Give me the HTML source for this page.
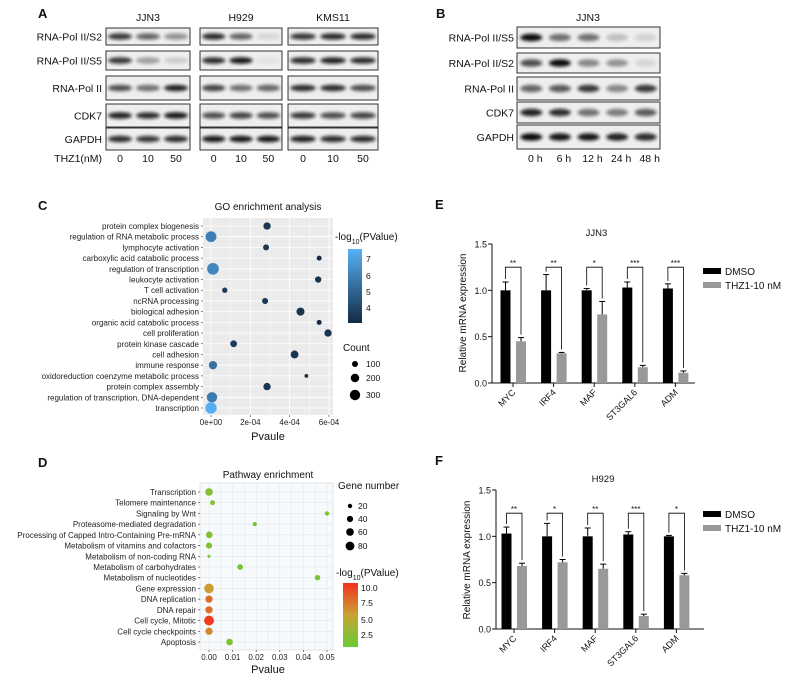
<!DOCTYPE html>
<html><head><meta charset="utf-8">
<style>
html,body{margin:0;padding:0;background:#fff;}
svg{display:block;font-family:"Liberation Sans",Arial,sans-serif;}
</style></head>
<body>
<svg id="fig" width="790" height="675" viewBox="0 0 790 675" xmlns="http://www.w3.org/2000/svg">
<defs>
<filter id="blur" x="-50%" y="-100%" width="200%" height="300%"><feGaussianBlur stdDeviation="1.6"/></filter>
<linearGradient id="gradC" x1="0" y1="1" x2="0" y2="0"><stop offset="0" stop-color="#132B43"/><stop offset="1" stop-color="#56B1F7"/></linearGradient>
<linearGradient id="gradD" x1="0" y1="1" x2="0" y2="0"><stop offset="0" stop-color="#66CC33"/><stop offset="0.5" stop-color="#C9A232"/><stop offset="1" stop-color="#F2311E"/></linearGradient>
</defs>
<g id="root"></g>
</svg>
<script>
// ---------- DATA ----------
const blotRowsA = ["RNA-Pol II/S2","RNA-Pol II/S5","RNA-Pol II","CDK7","GAPDH"];
const blotCellsA = ["JJN3","H929","KMS11"];
const blotA = {
  JJN3:[[0.8,0.6,0.4],[0.8,0.35,0.15],[0.7,0.55,0.9],[0.9,0.85,0.95],[0.85,0.8,0.85]],
  H929:[[0.85,0.6,0.1],[0.85,0.95,0.05],[0.75,0.55,0.6],[0.7,0.75,0.7],[0.95,0.95,0.95]],
  KMS11:[[0.8,0.85,0.85],[0.85,0.9,0.85],[0.85,0.85,0.7],[0.8,0.7,0.75],[0.9,0.85,0.85]]
};
const doseLabels = ["0","10","50"];
const blotRowsB = ["RNA-Pol II/S5","RNA-Pol II/S2","RNA-Pol II","CDK7","GAPDH"];
const timeLabels = ["0 h","6 h","12 h","24 h","48 h"];
const blotB = [[1.0,0.55,0.55,0.2,0.12],[0.7,1.0,0.45,0.4,0.1],[0.6,0.65,0.8,0.45,0.8],[0.9,0.85,0.55,0.5,0.65],[1.0,0.95,0.95,0.9,0.85]];

const goTerms = ["protein complex biogenesis","regulation of RNA metabolic process","lymphocyte activation","carboxylic acid catabolic process","regulation of transcription","leukocyte activation","T cell activation","ncRNA processing","biological adhesion","organic acid catabolic process","cell proliferation","protein kinase cascade","cell adhesion","immune response","oxidoreduction coenzyme metabolic process","protein complex assembly","regulation of transcription, DNA-dependent","transcription"];
const goPvalue = [2.85e-4,0.0,2.8e-4,5.5e-4,0.1e-4,5.45e-4,0.7e-4,2.75e-4,4.55e-4,5.5e-4,5.95e-4,1.15e-4,4.25e-4,0.1e-4,4.85e-4,2.85e-4,0.05e-4,0.0];
const goCount = [150,330,100,70,380,110,80,100,180,70,150,130,170,190,40,150,300,360];
const goLogP = [3.6,6.0,3.6,3.3,6.2,3.4,3.8,3.6,3.5,3.3,3.5,3.8,3.5,5.5,3.3,3.6,5.9,7.5];
const goXTicks = ["0e+00","2e-04","4e-04","6e-04"];
const goXTickVals = [0,2e-4,4e-4,6e-4];

const pwTerms = ["Transcription","Telomere maintenance","Signaling by Wnt","Proteasome-mediated degradation","Processing of Capped Intro-Containing Pre-mRNA","Metabolism of vitamins and cofactors","Metabolism of non-coding RNA","Metabolism of carbohydrates","Metabolism of nucleotides","Gene expression","DNA replication","DNA repair","Cell cycle, Mitotic","Cell cycle checkpoints","Apoptosis"];
const pwPvalue = [0.0,0.0015,0.050,0.0194,0.0001,0.0,0.0,0.0132,0.046,0.0,0.0,0.0,0.0,0.0,0.0087];
const pwGenes = [60,25,20,18,45,40,10,35,30,95,55,55,100,55,45];
const pwLogP = [2.6,2.0,1.6,1.7,2.4,2.4,2.2,1.8,1.7,6.2,8.3,8.3,10.5,7.2,2.1];
const pwXTicks = ["0.00","0.01","0.02","0.03","0.04","0.05"];
const pwXTickVals = [0,0.01,0.02,0.03,0.04,0.05];

const genes = ["MYC","IRF4","MAF","ST3GAL6","ADM"];
const jjn3Dmso = [1.0,1.0,1.0,1.03,1.02];
const jjn3DmsoErr = [0.09,0.17,0.02,0.06,0.05];
const jjn3Thz = [0.45,0.32,0.74,0.17,0.11];
const jjn3ThzErr = [0.04,0.01,0.14,0.02,0.02];
const jjn3Sig = ["**","**","*","***","***"];
const h929Dmso = [1.03,1.0,1.0,1.02,1.0];
const h929DmsoErr = [0.07,0.14,0.09,0.03,0.01];
const h929Thz = [0.68,0.72,0.65,0.14,0.58];
const h929ThzErr = [0.03,0.03,0.05,0.02,0.02];
const h929Sig = ["**","*","**","***","*"];
const barYTicks = ["0.0","0.5","1.0","1.5"];
const barYTickVals = [0,0.5,1.0,1.5];

// ---------- HELPERS ----------
const NS="http://www.w3.org/2000/svg";
const root=document.getElementById('root');
function mk(tag,attrs,parent,text){const e=document.createElementNS(NS,tag);for(const k in attrs)e.setAttribute(k,attrs[k]);if(text!==undefined)e.textContent=text;(parent||root).appendChild(e);return e;}
function grp(name,parent){const g=mk('g',{},parent);return g;}
function txt(parent,x,y,s,size,anchor,name,extra){const t=mk('text',Object.assign({x:x,y:y,'font-size':size,'text-anchor':anchor||'start',fill:'#111'},extra||{}),parent,s);return t;}
function logTitle(parent,x,y){
  const t=mk('text',{x:x,y:y,'font-size':10,fill:'#111'},parent);
  
  
  mk('tspan',{},t,'-log');
  mk('tspan',{'font-size':7,'baseline-shift':'sub'},t,'10');
  mk('tspan',{},t,'(PValue)');
}

// ---------- PANEL A ----------
const gA=grp('panel-a');
txt(gA,38,18,'A',13,'start','panel-label-a',{'font-weight':'bold'});
const rowYA=[[28,45],[51,70],[76,100],[104,127],[128,150]];
const boxXA={JJN3:[106,190],H929:[200,282],KMS11:[288,378]};
blotRowsA.forEach((r,i)=>{txt(gA,102,(rowYA[i][0]+rowYA[i][1])/2+4,r,10.5,'end','blot-row-label');});
blotCellsA.forEach(c=>{
  const [x0,x1]=boxXA[c];
  txt(gA,(x0+x1)/2,21,c,10.5,'middle','cell-line-title');
  rowYA.forEach((ry,i)=>{
    const b=mk('rect',{x:x0,y:ry[0],width:x1-x0,height:ry[1]-ry[0],fill:'#eeeeee',stroke:'#333','stroke-width':1},gA);
    
    
    blotA[c][i].forEach((v,j)=>{
      const cx=x0+(x1-x0)*(2*j+1)/6, cy=(ry[0]+ry[1])/2;
      const e=mk('ellipse',{cx:cx,cy:cy,rx:(x1-x0)/7,ry:3.3,fill:'#111',opacity:v,filter:'url(#blur)'},gA);
      
      
    });
  });
  doseLabels.forEach((d,j)=>txt(gA,x0+(x1-x0)*(2*j+1)/6,162,d,10.5,'middle','dose-label'));
});
txt(gA,102,162,'THZ1(nM)',10.5,'end','dose-axis-label');

// ---------- PANEL B ----------
const gB=grp('panel-b');
txt(gB,436,18,'B',13,'start','panel-label-b',{'font-weight':'bold'});
txt(gB,588,21,'JJN3',10.5,'middle','cell-line-title');
const rowYB=[[27,48],[53,73],[77,100],[102,123],[125,149]];
const bx0=517,bx1=660;
blotRowsB.forEach((r,i)=>{
  txt(gB,514,(rowYB[i][0]+rowYB[i][1])/2+4,r,10.5,'end','blot-row-label');
  const b=mk('rect',{x:bx0,y:rowYB[i][0],width:bx1-bx0,height:rowYB[i][1]-rowYB[i][0],fill:'#eeeeee',stroke:'#333','stroke-width':1},gB);
  
  
  blotB[i].forEach((v,j)=>{
    const cx=bx0+(bx1-bx0)*(2*j+1)/10, cy=(rowYB[i][0]+rowYB[i][1])/2;
    const e=mk('ellipse',{cx:cx,cy:cy,rx:11,ry:3.8,fill:'#111',opacity:v,filter:'url(#blur)'},gB);
    
    
  });
});
timeLabels.forEach((t,j)=>txt(gB,bx0+(bx1-bx0)*(2*j+1)/10+4,162,t,10.5,'middle','time-label'));

// ---------- PANEL C ----------
const gC=grp('panel-c');
txt(gC,38,210,'C',13,'start','panel-label-c',{'font-weight':'bold'});
const cL=203,cR=333,cT=218,cB=415;
const cx0=211,cx1=329;
const xC=v=>cx0+(v/6e-4)*(cx1-cx0);
const yC=i=>226+i*(408-226)/(goTerms.length-1);
const rC=c=>5.2*Math.sqrt(c/300);
function colC(v){const t=Math.max(0,Math.min(1,(v-3.2)/(7.6-3.2)));const a=[0x13,0x2B,0x43],b=[0x56,0xB1,0xF7];return 'rgb('+a.map((q,k)=>Math.round(q+(b[k]-q)*t)).join(',')+')';}
const bgC=mk('rect',{x:cL,y:cT,width:cR-cL,height:cB-cT,fill:'#EBEBEB'},gC);


goTerms.forEach((t,i)=>{mk('line',{x1:cL,x2:cR,y1:yC(i),y2:yC(i),stroke:'#fff','stroke-width':0.8},gC);});
goXTickVals.forEach(v=>{mk('line',{x1:xC(v),x2:xC(v),y1:cT,y2:cB,stroke:'#fff','stroke-width':0.8},gC);});
goXTickVals.forEach(v=>{if(v<6e-4)mk('line',{x1:xC(v+1e-4),x2:xC(v+1e-4),y1:cT,y2:cB,stroke:'#fff','stroke-width':0.4},gC);});
goTerms.forEach((t,i)=>{
  txt(gC,cL-4,yC(i)+3,t,8,'end','go-term-label',{fill:'#222'});
  mk('line',{x1:cL-2,x2:cL,y1:yC(i),y2:yC(i),stroke:'#333','stroke-width':0.6},gC);
  const d=mk('circle',{cx:xC(goPvalue[i]),cy:yC(i),r:rC(goCount[i]),fill:colC(goLogP[i])},gC);
  
  
});
goXTicks.forEach((s,k)=>{mk('line',{x1:xC(goXTickVals[k]),x2:xC(goXTickVals[k]),y1:cB,y2:cB+2,stroke:'#333','stroke-width':0.6},gC);txt(gC,xC(goXTickVals[k]),425,s,8,'middle','x-tick-label',{fill:'#222'});});
txt(gC,268,210,'GO enrichment analysis',10,'middle','chart-title');
txt(gC,268,440,'Pvaule',11,'middle','x-axis-title');
logTitle(gC,335,240);
const cbC=mk('rect',{x:348,y:249,width:14,height:74,fill:'url(#gradC)'},gC);


[['7',259],['6',276],['5',292],['4',308]].forEach(a=>txt(gC,366,a[1]+3,a[0],8.5,'start','colorbar-label'));
txt(gC,343,351,'Count',10,'start','size-legend-title');
[[100,364],[200,378],[300,395]].forEach(a=>{mk('circle',{cx:355,cy:a[1],r:rC(a[0]),fill:'#000'},gC);txt(gC,366,a[1]+3,String(a[0]),8.5,'start','size-legend-label');});

// ---------- PANEL D ----------
const gD=grp('panel-d');
txt(gD,38,467,'D',13,'start','panel-label-d',{'font-weight':'bold'});
const dL=200,dR=333,dT=483,dB=650;
const dx0=209,dx1=327;
const xD=v=>dx0+(v/0.05)*(dx1-dx0);
const yD=i=>492+i*(642-492)/(pwTerms.length-1);
const rD=g=>4.4*Math.sqrt(g/80);
function colD(v){const t=Math.max(0,Math.min(1,(v-1)/(11-1)));const s=[[0x66,0xCC,0x33],[0xC9,0xA2,0x32],[0xF2,0x31,0x1E]];let a,b,u;if(t<0.5){a=s[0];b=s[1];u=t/0.5;}else{a=s[1];b=s[2];u=(t-0.5)/0.5;}return 'rgb('+a.map((q,k)=>Math.round(q+(b[k]-q)*u)).join(',')+')';}
const bgD=mk('rect',{x:dL,y:dT,width:dR-dL,height:dB-dT,fill:'#F7FAFC',stroke:'#ccc','stroke-width':0.5},gD);


pwTerms.forEach((t,i)=>mk('line',{x1:dL,x2:dR,y1:yD(i),y2:yD(i),stroke:'#e3e6ea','stroke-width':0.6},gD));
for(let k=0;k<=10;k++){const v=k*0.005;mk('line',{x1:xD(v),x2:xD(v),y1:dT,y2:dB,stroke:'#e3e6ea','stroke-width':0.6},gD);}
pwTerms.forEach((t,i)=>{
  txt(gD,dL-4,yD(i)+3,t,8,'end','pathway-label',{fill:'#222'});
  mk('line',{x1:dL-2,x2:dL,y1:yD(i),y2:yD(i),stroke:'#333','stroke-width':0.6},gD);
  const d=mk('circle',{cx:xD(pwPvalue[i]),cy:yD(i),r:rD(pwGenes[i]),fill:colD(pwLogP[i])},gD);
  
  
});
pwXTicks.forEach((s,k)=>{mk('line',{x1:xD(pwXTickVals[k]),x2:xD(pwXTickVals[k]),y1:dB,y2:dB+2,stroke:'#333','stroke-width':0.6},gD);txt(gD,xD(pwXTickVals[k]),660,s,8,'middle','x-tick-label',{fill:'#222'});});
txt(gD,268,478,'Pathway enrichment',10,'middle','chart-title');
txt(gD,268,673,'Pvalue',11,'middle','x-axis-title');
txt(gD,338,489,'Gene number',10,'start','size-legend-title');
[[20,506],[40,519],[60,532],[80,546]].forEach(a=>{mk('circle',{cx:350,cy:a[1],r:rD(a[0]),fill:'#000'},gD);txt(gD,358,a[1]+3,String(a[0]),8.5,'start','size-legend-label');});
logTitle(gD,336,576);
const cbD=mk('rect',{x:343,y:583,width:15,height:64,fill:'url(#gradD)'},gD);


[['10.0',588],['7.5',603],['5.0',620],['2.5',635]].forEach(a=>txt(gD,361,a[1]+3,a[0],8.5,'start','colorbar-label'));

// ---------- PANELS E / F ----------
function barChart(name,label,lx,ly,title,ax0,ax1,y0,y15,gx0,dm,dmE,th,thE,sig,ylabY,legY){
  const g=grp(name);
  txt(g,lx,ly,label,13,'start','panel-label',{'font-weight':'bold'});
  const yS=v=>y0-(v/1.5)*(y0-y15);
  const gs=40.6;
  txt(g,(ax0+ax1)/2+3,yS(1.5)-8,title,9.5,'middle','chart-title');
  mk('line',{x1:ax0,x2:ax0,y1:y15,y2:y0,stroke:'#111','stroke-width':1},g);
  mk('line',{x1:ax0,x2:ax1,y1:y0,y2:y0,stroke:'#111','stroke-width':1},g);
  barYTickVals.forEach((v,k)=>{mk('line',{x1:ax0-4,x2:ax0,y1:yS(v),y2:yS(v),stroke:'#111','stroke-width':1},g);txt(g,ax0-5,yS(v)+3.5,barYTicks[k],9,'end','y-tick-label');});
  txt(g,ax0-26,ylabY,'Relative mRNA expression',10,'middle','y-axis-title',{transform:'rotate(-90 '+(ax0-26)+' '+ylabY+')'});
  genes.forEach((gn,i)=>{
    const c=gx0+i*gs, xb=c-12.5, xg=c+3;
    const b1=mk('rect',{x:xb,y:yS(dm[i]),width:10,height:yS(0)-yS(dm[i]),fill:'#000'},g);
    
    
    const b2=mk('rect',{x:xg,y:yS(th[i]),width:10,height:yS(0)-yS(th[i]),fill:'#999'},g);
    
    
    [[xb+5,dm[i],dmE[i]],[xg+5,th[i],thE[i]]].forEach(e=>{
      mk('line',{x1:e[0],x2:e[0],y1:yS(e[1]),y2:yS(e[1]+e[2]),stroke:'#000','stroke-width':1},g);
      mk('line',{x1:e[0]-3,x2:e[0]+3,y1:yS(e[1]+e[2]),y2:yS(e[1]+e[2]),stroke:'#000','stroke-width':1},g);
    });
    const top=yS(1.25);
    const br=mk('polyline',{points:(xb+5)+','+(yS(dm[i]+dmE[i])-3)+' '+(xb+5)+','+top+' '+(xg+5)+','+top+' '+(xg+5)+','+(yS(th[i]+thE[i])-3),fill:'none',stroke:'#000','stroke-width':0.8},g);
    
    
    txt(g,c,top-1,sig[i],8,'middle','significance-stars');
    mk('line',{x1:c,x2:c,y1:y0,y2:y0+4,stroke:'#111','stroke-width':1},g);
    txt(g,c+3,y0+10,gn,9,'end','x-tick-label',{transform:'rotate(-45 '+(c+3)+' '+(y0+10)+')'});
  });
  const r1=mk('rect',{x:703,y:legY-4,width:18,height:6,fill:'#000'},g);
  
  
  txt(g,725,legY+3,'DMSO',10,'start','legend-label-dmso');
  const r2=mk('rect',{x:703,y:legY+10,width:18,height:6,fill:'#999'},g);
  
  
  txt(g,725,legY+17,'THZ1-10 nM',10,'start','legend-label-thz1');
}
barChart('panel-e','E',435,209,'JJN3',492,695,383,244,513,jjn3Dmso,jjn3DmsoErr,jjn3Thz,jjn3ThzErr,jjn3Sig,313,272);
barChart('panel-f','F',435,465,'H929',496,704,629,490,514,h929Dmso,h929DmsoErr,h929Thz,h929ThzErr,h929Sig,560,515);
</script>
</body></html>
